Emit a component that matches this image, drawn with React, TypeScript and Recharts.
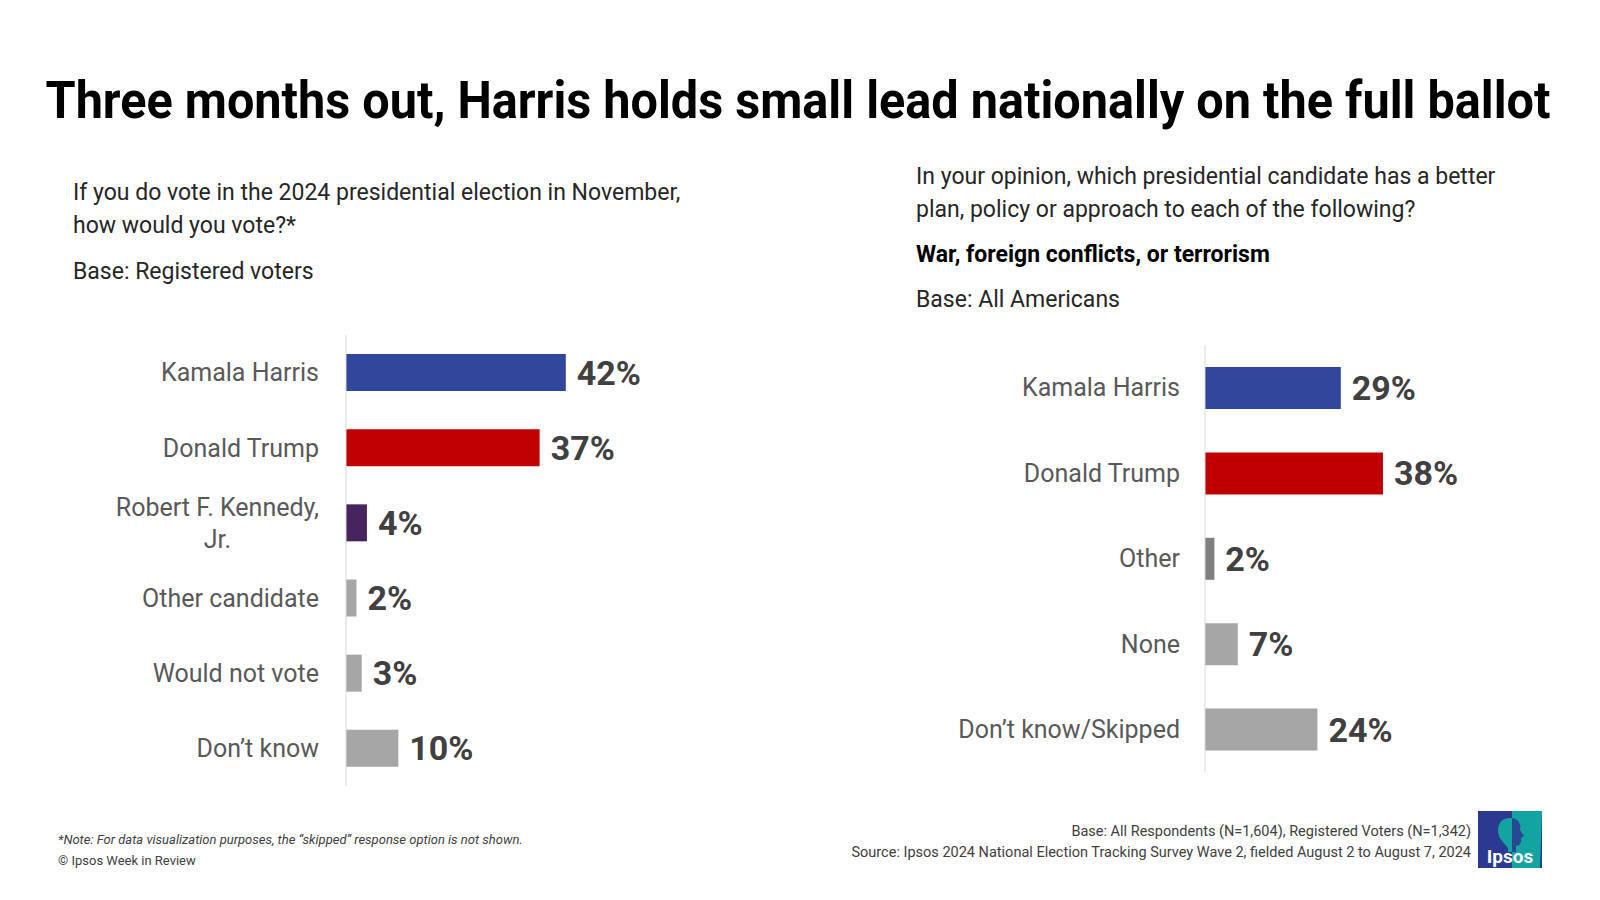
import React from 'react';
import { BarChart, Bar, XAxis, YAxis, Cell, LabelList } from 'recharts';

const FONT = 'Roboto, "Noto Sans", sans-serif';

const titleText = 'Three months out, Harris holds small lead nationally on the full ballot';

const leftQuestion = ['If you do vote in the 2024 presidential election in November,', 'how would you vote?*'];
const leftBase = 'Base: Registered voters';
const leftCategories = ['Kamala Harris', 'Donald Trump', 'Robert F. Kennedy,\nJr.', 'Other candidate', 'Would not vote', 'Don’t know'];
const leftValues = [42, 37, 4, 2, 3, 10];
const leftColors = ['#30479B', '#C00000', '#48245F', '#A6A6A6', '#A6A6A6', '#A6A6A6'];

const rightQuestion = ['In your opinion, which presidential candidate has a better', 'plan, policy or approach to each of the following?'];
const rightTopic = 'War, foreign conflicts, or terrorism';
const rightBase = 'Base: All Americans';
const rightCategories = ['Kamala Harris', 'Donald Trump', 'Other', 'None', 'Don’t know/Skipped'];
const rightValues = [29, 38, 2, 7, 24];
const rightColors = ['#30479B', '#C00000', '#7F7F7F', '#A6A6A6', '#A6A6A6'];

const footNote = '*Note: For data visualization purposes, the “skipped” response option is not shown.';
const copyright = '© Ipsos Week in Review';
const baseNote = 'Base: All Respondents (N=1,604), Registered Voters (N=1,342)';
const sourceNote = 'Source: Ipsos 2024 National Election Tracking Survey Wave 2, fielded August 2 to August 7, 2024';

const leftData = leftCategories.map((name, i) => ({ name, value: leftValues[i] }));
const rightData = rightCategories.map((name, i) => ({ name, value: rightValues[i] }));

let canvasCtx: CanvasRenderingContext2D | null = null;
function measure(text: string, font: string): number {
  if (!canvasCtx) {
    const c = document.createElement('canvas');
    canvasCtx = c.getContext('2d');
  }
  if (!canvasCtx) return text.length * 12;
  canvasCtx.font = font;
  return canvasCtx.measureText(text).width;
}

const TICK_SIZE = 25;
const TICK_COLOR = '#595959';
const Q_SIZE = 23;

const CatTick = (props: any) => {
  const { x, y, payload } = props;
  const lines = String(payload.value).split('\n');
  if (lines.length === 1) {
    return (
      <text x={x} y={y} dy="0.35em" textAnchor="end" fill={TICK_COLOR} fontSize={TICK_SIZE} fontFamily={FONT}>
        {lines[0]}
      </text>
    );
  }
  const w = measure(lines[0], `${TICK_SIZE}px Roboto`);
  const cx = x - w / 2;
  const lh = 32;
  return (
    <text textAnchor="middle" fill={TICK_COLOR} fontSize={TICK_SIZE} fontFamily={FONT}>
      {lines.map((l, i) => (
        <tspan key={i} x={cx} y={y + (i - (lines.length - 1) / 2) * lh} dy="0.35em">
          {l}
        </tspan>
      ))}
    </text>
  );
};

const pct = (v: any) => `${v}%`;

export default function App() {
  return (
    <div style={{ position: 'absolute', left: 0, top: 0, width: 1600, height: 900, background: '#fff', overflow: 'hidden', fontFamily: FONT }}>
      <svg width={1600} height={900} style={{ position: 'absolute', left: 0, top: 0 }}>
        <g transform="translate(798 118) scale(0.935 1)">
          <text x={0} y={0} fontSize={52} fontWeight={700} fill="#000" fontFamily={FONT} textAnchor="middle">
            {titleText}
          </text>
        </g>
        {leftQuestion.map((l, i) => (
          <text key={i} x={73} y={200 + i * 33} fontSize={Q_SIZE} fill="#262626" fontFamily={FONT}>{l}</text>
        ))}
        <text x={73} y={279} fontSize={Q_SIZE} fill="#262626" fontFamily={FONT}>{leftBase}</text>
        {rightQuestion.map((l, i) => (
          <text key={i} x={916} y={184 + i * 33} fontSize={Q_SIZE} fill="#262626" fontFamily={FONT}>{l}</text>
        ))}
        <text x={916} y={262} fontSize={Q_SIZE} fontWeight={700} fill="#000" fontFamily={FONT}>{rightTopic}</text>
        <text x={916} y={307} fontSize={Q_SIZE} fill="#262626" fontFamily={FONT}>{rightBase}</text>

        <text x={58} y={844} fontSize={13} fontStyle="italic" fill="#404040" fontFamily={FONT}>{footNote}</text>
        <text x={58} y={865} fontSize={13} fill="#404040" fontFamily={FONT}>{copyright}</text>
        <text x={1471} y={836} fontSize={14.5} textAnchor="end" fill="#404040" fontFamily={FONT}>{baseNote}</text>
        <text x={1471} y={857} fontSize={14.5} textAnchor="end" fill="#404040" fontFamily={FONT}>{sourceNote}</text>

        <g>
          <rect x={1478} y={811} width={64} height={57} fill="#2B3990" />
          <path d="M1512 811 L1542 811 L1540 868 L1512 868 Z" fill="#13A3A0" />
          <path d="M1510 818 C1498 818 1496 830 1500 838 C1503 843 1506 845 1508 848 L1508 852 L1516 852 L1516 846 C1520 846 1522 842 1521 838 L1524 836 L1520 830 C1521 822 1517 818 1510 818 Z" fill="#13A3A0" />
          <path d="M1512 818 C1520 819 1521 826 1520 830 L1524 836 L1521 838 C1522 842 1520 846 1516 846 L1516 852 L1512 852 Z" fill="#2B3990" opacity={0.85} />
          <text x={1510} y={863} fontSize={19} fontWeight={700} fill="#fff" textAnchor="middle" fontFamily={FONT}>Ipsos</text>
        </g>
      </svg>

      <div style={{ position: 'absolute', left: 0, top: 335, width: 660, height: 451 }}>
        <BarChart width={660} height={451} data={leftData} layout="vertical" margin={{ top: 0, right: 0, bottom: 0, left: 0 }}>
          <XAxis type="number" domain={[0, 60]} hide />
          <YAxis
            type="category"
            dataKey="name"
            width={346}
            axisLine={{ stroke: '#D9D9D9' }}
            tickLine={false}
            tickSize={0}
            tickMargin={27}
            tick={<CatTick />}
            interval={0}
          />
          <Bar dataKey="value" barSize={37} isAnimationActive={false}>
            {leftData.map((d, i) => (
              <Cell key={i} fill={leftColors[i]} />
            ))}
            <LabelList dataKey="value" position="right" offset={11} formatter={pct} fill="#404040" fontSize={34} fontWeight={700} fontFamily={FONT} />
          </Bar>
        </BarChart>
      </div>

      <div style={{ position: 'absolute', left: 875, top: 345, width: 611, height: 427 }}>
        <BarChart width={611} height={427} data={rightData} layout="vertical" margin={{ top: 0, right: 0, bottom: 0, left: 0 }}>
          <XAxis type="number" domain={[0, 60]} hide />
          <YAxis
            type="category"
            dataKey="name"
            width={330}
            axisLine={{ stroke: '#D9D9D9' }}
            tickLine={false}
            tickSize={0}
            tickMargin={25}
            tick={<CatTick />}
            interval={0}
          />
          <Bar dataKey="value" barSize={42} isAnimationActive={false}>
            {rightData.map((d, i) => (
              <Cell key={i} fill={rightColors[i]} />
            ))}
            <LabelList dataKey="value" position="right" offset={11} formatter={pct} fill="#404040" fontSize={34} fontWeight={700} fontFamily={FONT} />
          </Bar>
        </BarChart>
      </div>
    </div>
  );
}
